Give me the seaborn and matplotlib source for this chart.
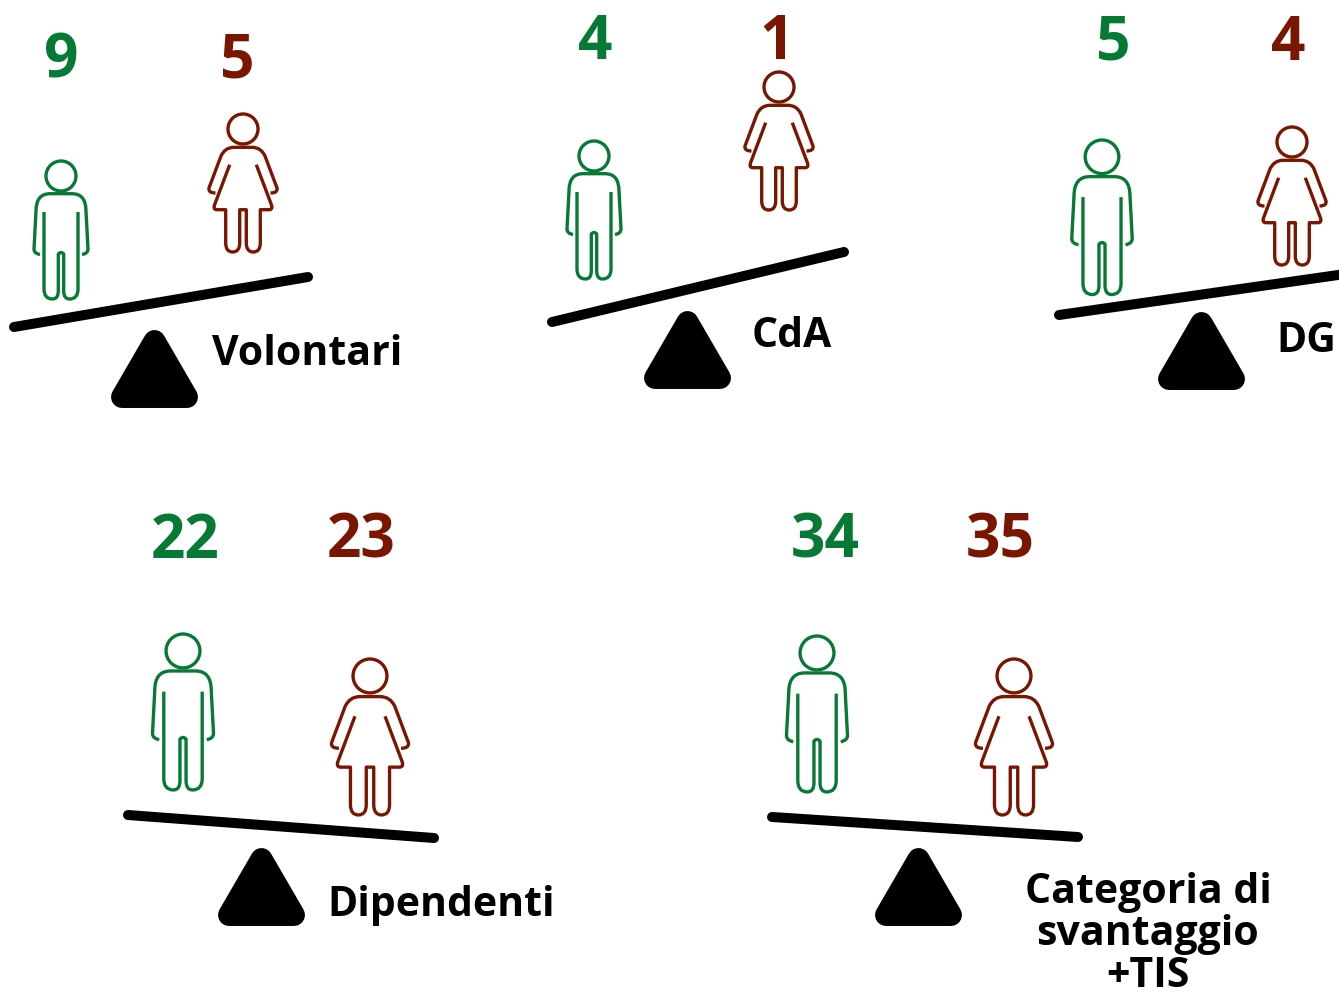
import pandas as pd
import matplotlib.pyplot as plt
import seaborn as sns
from matplotlib.patches import Circle, PathPatch, Polygon
from matplotlib.path import Path

# Values
categories = ['Volontari', 'CdA', 'DG', 'Dipendenti', 'Categoria di\nsvantaggio\n+TIS']
men = [9, 4, 5, 22, 34]
women = [5, 1, 4, 23, 35]

GREEN = '#067a35'
RED = '#7a1600'

# Layout, in reference pixels
beam_x0 = [14, 552, 1059, 128, 772]
beam_y0 = [328, 323, 316, 816, 818]
beam_x1 = [308, 844, 1345, 434, 1078]
beam_y1 = [278, 253, 275, 839, 838]
tri_x = [154.5, 687.5, 1201.5, 261.5, 918.5]
tri_top = [331, 312, 313, 849, 849]
man_x = [61, 594, 1102, 183, 817]
man_top = [162, 142, 141, 635, 637]
man_scale = [1, 1, 1.12, 1.13, 1.13]
woman_x = [243, 779, 1292, 370, 1014]
woman_top = [115, 73, 128, 660, 660]
woman_scale = [1, 1, 1, 1.13, 1.13]
men_label_x = [61, 595, 1113, 185, 825]
women_label_x = [237, 777, 1288, 361, 1000]
number_base = [78, 59, 60, 558, 558]
label_x = [212, 752, 1276, 327, 1148]
label_base = [365, 347, 352, 916, 987]

M, L, Q = Path.MOVETO, Path.LINETO, Path.CURVE3

# half outlines of the figures, x from the middle, y from the top of the head
man_arms = [(M, -21, 93.5), (Q, -27, 92.5), (Q, -27, 88), (L, -25, 50), (Q, -25, 32.7), (Q, -11, 32.7),
            (L, 11, 32.7), (Q, 25, 32.7), (Q, 25, 50), (L, 27, 88), (Q, 27, 92.5), (Q, 21, 93.5)]
man_legs = [(M, -17, 51), (L, -17, 128), (Q, -17, 138), (Q, -8.5, 138), (Q, -2.7, 138), (Q, -2.7, 130),
            (L, -2.7, 93), (Q, 0, 90), (Q, 2.7, 93), (L, 2.7, 130), (Q, 2.7, 138), (Q, 8.5, 138),
            (Q, 17, 138), (Q, 17, 128), (L, 17, 51)]
woman_arms = [(M, -27.5, 79), (Q, -35, 79), (Q, -34, 74), (L, -22, 42), (Q, -18, 33.3), (Q, -9, 33.3),
              (L, 9, 33.3), (Q, 18, 33.3), (Q, 22, 42), (L, 34, 74), (Q, 35, 79), (Q, 27.5, 79)]
woman_dress = [(M, -13.3, 50.7), (L, -28.5, 91), (Q, -30, 95.7), (Q, -26, 95.7), (L, -17.3, 95.7),
               (L, -17.3, 129), (Q, -17.3, 138), (Q, -10.3, 138), (Q, -3.3, 138), (Q, -3.3, 129),
               (L, -3.3, 95.7), (L, 3.3, 95.7), (L, 3.3, 129), (Q, 3.3, 138), (Q, 10.3, 138),
               (Q, 17.3, 138), (Q, 17.3, 129), (L, 17.3, 95.7), (L, 26, 95.7), (Q, 30, 95.7),
               (Q, 28.5, 91), (L, 13.3, 50.7)]


def draw_figure(ax, cx, top, scale, parts, color):
    ax.add_patch(Circle((cx, top + 15 * scale), 15 * scale, fill=False, ec=color, lw=2.4))
    for part in parts:
        codes = [p[0] for p in part]
        verts = [(cx + p[1] * scale, top + p[2] * scale) for p in part]
        ax.add_patch(PathPatch(Path(verts, codes), fill=False, ec=color, lw=2.4,
                               capstyle='butt', joinstyle='round'))


sns.set_theme(style='white')
plt.rcParams['font.family'] = ['Open Sans', 'DejaVu Sans']

fig = plt.figure(figsize=(13.39, 9.95), dpi=100)
ax = fig.add_axes([0, 0, 1, 1])

for i in range(len(categories)):
    # Beam of the balance
    beam = pd.DataFrame({'x': [beam_x0[i], beam_x1[i]], 'y': [beam_y0[i], beam_y1[i]]})
    sns.lineplot(data=beam, x='x', y='y', sort=False, color='black', linewidth=7.2,
                 solid_capstyle='round', errorbar=None, ax=ax)

    # Rounded triangle: small polygon with a thick round edge
    tx, ty = tri_x[i], tri_top[i]
    ax.add_patch(Polygon([(tx, ty + 11), (tx - 32.5, ty + 67), (tx + 32.5, ty + 67)], closed=True,
                         fc='black', ec='black', lw=15.8, joinstyle='round'))

    draw_figure(ax, man_x[i], man_top[i], man_scale[i], [man_arms, man_legs], GREEN)
    draw_figure(ax, woman_x[i], woman_top[i], woman_scale[i], [woman_arms, woman_dress], RED)

    ax.text(men_label_x[i], number_base[i], str(men[i]), color=GREEN, fontsize=43.5, fontweight='bold',
            ha='center', va='baseline')
    ax.text(women_label_x[i], number_base[i], str(women[i]), color=RED, fontsize=43.5, fontweight='bold',
            ha='center', va='baseline')

    # Last label is centred on three lines
    if '\n' in categories[i]:
        lines = categories[i].split('\n')
        for j, line in enumerate(lines):
            ax.text(label_x[i], label_base[i] - 42 * (len(lines) - 1 - j), line, color='black',
                    fontsize=29.5, fontweight='bold', ha='center', va='baseline')
    else:
        ax.text(label_x[i], label_base[i], categories[i], color='black', fontsize=29.5,
                fontweight='bold', ha='left', va='baseline')

ax.set_xlim(0, 1339)
ax.set_ylim(995, 0)
ax.axis('off')

plt.savefig('out.png', dpi=100)
plt.close()
